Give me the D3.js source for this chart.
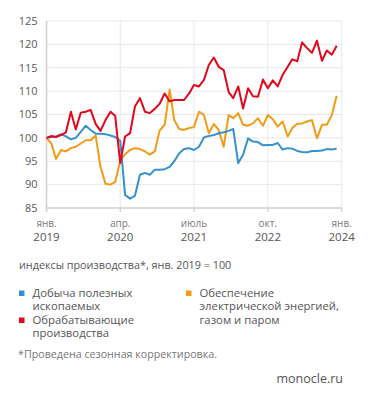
<!DOCTYPE html>
<html>
<head>
<meta charset="utf-8">
<script src="https://cdn.jsdelivr.net/npm/d3@7"></script>
<style>
  html, body { margin: 0; padding: 0; background: #fff; }
  svg { display: block; font-family: "Open Sans", "Noto Sans", sans-serif; }
</style>
</head>
<body>
<div id="chart"></div>
<script>
// index of industrial production, Jan 2019 = 100, monthly Jan 2019 .. Dec 2023
const mining = [
  100, 100.2, 100.3, 100.8, 100.3, 99.7, 100, 101.3, 102.6, 101.7,
  100.9, 100.9, 100.8, 100.5, 100.2, 99.4, 87.8, 87, 87.6, 92.1,
  92.5, 92.1, 93.2, 93.2, 93.3, 93.8, 95, 96.7, 97.6, 97.8,
  97.4, 98.1, 100.1, 100.4, 100.6, 101, 101.2, 101.5, 101.9, 94.6,
  96.4, 99.9, 99.2, 99.1, 98.4, 98.5, 98.5, 98.9, 97.5, 97.8,
  97.7, 97.2, 97, 96.9, 97.2, 97.2, 97.3, 97.6, 97.5, 97.7
];
const manufacturing = [
  100, 100.4, 100.2, 100.6, 101.2, 105.6, 101.8, 105.4, 105.6, 106,
  103, 101.5, 103.8, 105.6, 104.7, 94.6, 100.3, 101, 106.7, 108.5,
  105.6, 105.3, 106.2, 107.3, 109.5, 107.8, 108.1, 108.1, 108.1, 109.5,
  111.3, 111, 112.4, 115.6, 117.2, 115.2, 114.5, 109.8, 108.5, 111,
  106.3, 110.6, 108.9, 108.8, 112.5, 110.6, 112.3, 111, 113.5, 115.2,
  116.8, 116.4, 120.4, 119.2, 118.2, 120.8, 116.5, 118.7, 117.8, 119.7
];
const energy = [
  100, 98.7, 95.5, 97.4, 97.1, 97.8, 98.1, 98.8, 99.5, 99.5,
  100.5, 93.8, 90.2, 90, 90.6, 95, 96.5, 97.4, 97.8, 97.6,
  97.1, 96.4, 97.1, 101.6, 102.8, 110.3, 103.8, 101.9, 101.7, 102.1,
  102.3, 105.6, 104.9, 101, 103, 101.7, 98.1, 104.9, 104.2, 105.3,
  102.8, 102.6, 103.1, 104.2, 102.6, 104.9, 104, 102.4, 103.5, 100.3,
  102.1, 103, 103.1, 103.5, 103.8, 99.9, 102.8, 102.8, 104.9, 109
];

const seriesColors = ['#3592cc', '#e3061c', '#f39a16'];

const yTicks = [85, 90, 95, 100, 105, 110, 115, 120, 125];
const xTickDates = ['2019-01-01', '2020-04-01', '2021-07-01', '2022-10-01', '2024-01-01'];
const xTickMonths = ['янв.', 'апр.', 'июль', 'окт.', 'янв.'];
const xTickYears = ['2019', '2020', '2021', '2022', '2024'];

const subtitle = 'индексы производства*, янв. 2019 = 100';
const footnote = '*Проведена сезонная корректировка.';
const source = 'monocle.ru';

const W = 371, H = 413;
const plot = { left: 46.5, right: 341.7, top: 21, bottom: 208 };

const parse = d3.utcParse('%Y-%m-%d');
const months = d3.utcMonth.range(parse('2019-01-01'), parse('2024-01-01'));

const x = d3.scaleUtc()
  .domain([parse('2019-01-01'), parse('2024-01-01')])
  .range([plot.left, plot.right]);

const y = d3.scaleLinear()
  .domain([85, 125])
  .range([plot.bottom, plot.top]);

const svg = d3.select('#chart').append('svg')
  .attr('width', W)
  .attr('height', H);

// horizontal grid
svg.append('g')
  .selectAll('line')
  .data(yTicks.filter(d => d !== 85))
  .enter().append('line')
  .attr('x1', plot.left).attr('x2', plot.right)
  .attr('y1', d => y(d)).attr('y2', d => y(d))
  .attr('stroke', '#e8e8e8')
  .attr('stroke-width', 1);

// vertical grid (tick dates, skipping the first)
const tickDates = xTickDates.map(parse);
svg.append('g')
  .selectAll('line')
  .data(tickDates.slice(1))
  .enter().append('line')
  .attr('x1', d => x(d)).attr('x2', d => x(d))
  .attr('y1', plot.top).attr('y2', plot.bottom)
  .attr('stroke', '#e8e8e8')
  .attr('stroke-width', 1);

// axis lines
svg.append('line')
  .attr('x1', plot.left).attr('x2', plot.left)
  .attr('y1', plot.top).attr('y2', plot.bottom + 4)
  .attr('stroke', '#cfcfcf').attr('stroke-width', 1.5);
svg.append('line')
  .attr('x1', plot.left).attr('x2', plot.right)
  .attr('y1', plot.bottom).attr('y2', plot.bottom)
  .attr('stroke', '#cfcfcf').attr('stroke-width', 1.5);

// y labels
svg.append('g')
  .selectAll('text')
  .data(yTicks)
  .enter().append('text')
  .attr('x', 37.5)
  .attr('y', d => y(d))
  .attr('dy', '0.35em')
  .attr('text-anchor', 'end')
  .style('font-size', '11px')
  .style('fill', '#5a5a5a')
  .text(d => d);

// x ticks + labels
const xg = svg.append('g');
tickDates.forEach((d, i) => {
  xg.append('line')
    .attr('x1', x(d)).attr('x2', x(d))
    .attr('y1', plot.bottom).attr('y2', plot.bottom + 4)
    .attr('stroke', '#cfcfcf').attr('stroke-width', 1.2);
  xg.append('text')
    .attr('x', x(d)).attr('y', 226.5)
    .attr('text-anchor', 'middle')
    .style('font-size', '10px')
    .style('fill', '#7a7a7a')
    .text(xTickMonths[i]);
  xg.append('text')
    .attr('x', x(d)).attr('y', 241)
    .attr('text-anchor', 'middle')
    .style('font-size', '11.5px')
    .style('fill', '#555')
    .text(xTickYears[i]);
});

// lines
const line = d3.line()
  .x((d, i) => x(months[i]))
  .y(d => y(d));

[[energy, 2], [mining, 0], [manufacturing, 1]].forEach(([s, idx]) => {
  svg.append('path')
    .datum(s)
    .attr('d', line)
    .attr('fill', 'none')
    .attr('stroke', seriesColors[idx])
    .attr('stroke-width', 2)
    .attr('stroke-linejoin', 'round');
});

// subtitle
svg.append('text')
  .attr('x', 19).attr('y', 268.5)
  .style('font-size', '10.8px')
  .style('fill', '#555')
  .text(subtitle);

// legend
const legendItems = [
  { x: 19, y: 293, lines: ['Добыча полезных', 'ископаемых'], c: 0 },
  { x: 19, y: 320, lines: ['Обрабатывающие', 'производства'], c: 1 },
  { x: 186, y: 293, lines: ['Обеспечение', 'электрической энергией,', 'газом и паром'], c: 2 }
];
legendItems.forEach(it => {
  svg.append('rect')
    .attr('x', it.x).attr('y', it.y - 2.5)
    .attr('width', 5.5).attr('height', 5.5)
    .attr('fill', seriesColors[it.c]);
  it.lines.forEach((t, j) => {
    svg.append('text')
      .attr('x', it.x + 13.5).attr('y', it.y + j * 13.5)
      .attr('dy', '0.35em')
      .style('font-size', '11.3px')
      .style('fill', '#555')
      .text(t);
  });
});

// footnote + source
svg.append('text')
  .attr('x', 18).attr('y', 357.5)
  .style('font-size', '10.7px')
  .style('fill', '#777')
  .text(footnote);

svg.append('text')
  .attr('x', 343).attr('y', 383)
  .attr('text-anchor', 'end')
  .style('font-size', '12.5px')
  .style('fill', '#555')
  .text(source);
</script>
</body>
</html>
